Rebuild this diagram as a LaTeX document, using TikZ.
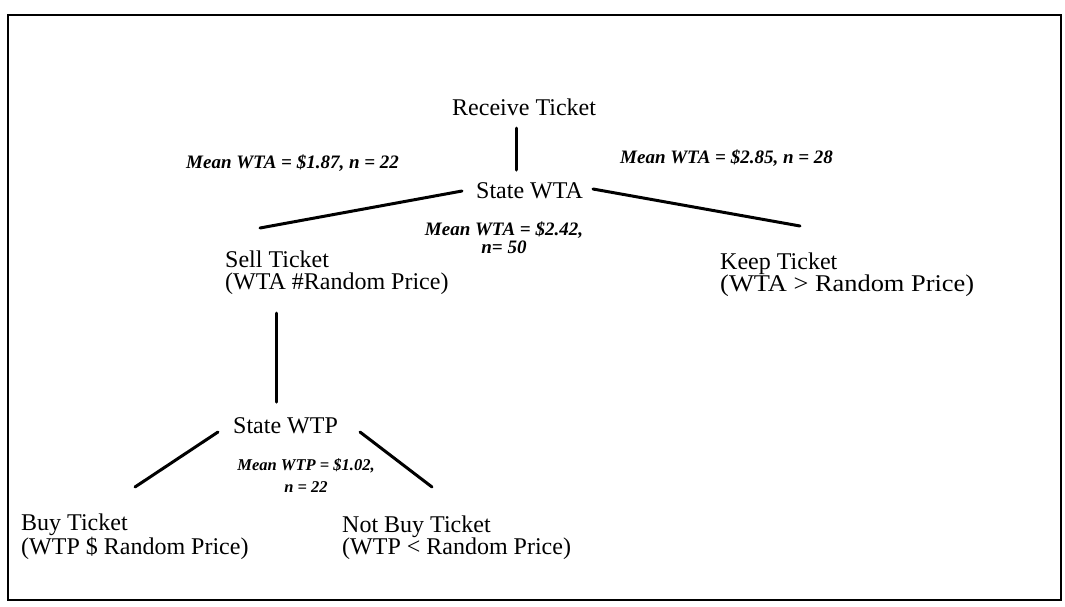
\documentclass[tikz,border=0pt]{standalone}
\usepackage{fontspec}
\setmainfont{Liberation Serif}
\usetikzlibrary{calc}
\begin{document}
\begin{tikzpicture}[x=1pt,y=-1pt,
  lbl/.style={inner sep=0pt, anchor=base west, align=left, font=\fontsize{24}{22}\selectfont},
  stat/.style={inner sep=0pt, font=\fontsize{19}{18}\selectfont\bfseries\itshape},
  conn/.style={line width=3pt, line cap=round},
  frame/.style={line width=2.5pt}]
\useasboundingbox (0,0) rectangle (1065,606);
\draw[frame] (8,15) rectangle (1061,600);

\node[lbl] (rt) at (452,115) {Receive Ticket};
\node[lbl] (sw) at (476,198) {State WTA};
\node[lbl] (sell) at (225,289) {Sell Ticket\\(WTA \#Random Price)};
\node[lbl] (keep) at (720,291) {Keep Ticket\\\scalebox{1.1}[1]{(WTA > Random Price)}};
\node[lbl] (wtp) at (233,433) {State WTP};
\node[lbl] (buy) at (21,554) {Buy Ticket\\(WTP \$ Random Price)};
\node[lbl] (nbuy) at (342,554) {Not Buy Ticket\\(WTP < Random Price)};

\node[stat, anchor=base west] (s1) at (186,168) {Mean WTA = \$1.87, n = 22};
\node[stat, anchor=base west] (s2) at (620,163) {Mean WTA = \$2.85, n = 28};
\node[stat, align=center, anchor=base] (s3) at (504,253) {Mean WTA = \$2.42,\\n= 50};
\node[stat, align=center, anchor=base, font=\fontsize{16.5}{22}\selectfont\bfseries\itshape] (s4) at (306,492) {Mean WTP = \$1.02,\\n = 22};

\draw[conn] ($(rt.base west)+(64,13)$) -- ($(sw.base west)+(40,-28)$);
\draw[conn] ($(sw.base west)+(-14,-7)$) -- ($(sell.base west)+(35,-61)$);
\draw[conn] ($(sw.base west)+(117,-9)$) -- ($(keep.base west)+(80,-65)$);
\draw[conn] ($(sell.base west)+(51,24)$) -- ($(wtp.base west)+(43,-31)$);
\draw[conn] ($(wtp.base west)+(-15,-1)$) -- ($(buy.base west)+(114,-67)$);
\draw[conn] ($(wtp.base west)+(127,-1)$) -- ($(nbuy.base west)+(90,-67)$);
\end{tikzpicture}
\end{document}
